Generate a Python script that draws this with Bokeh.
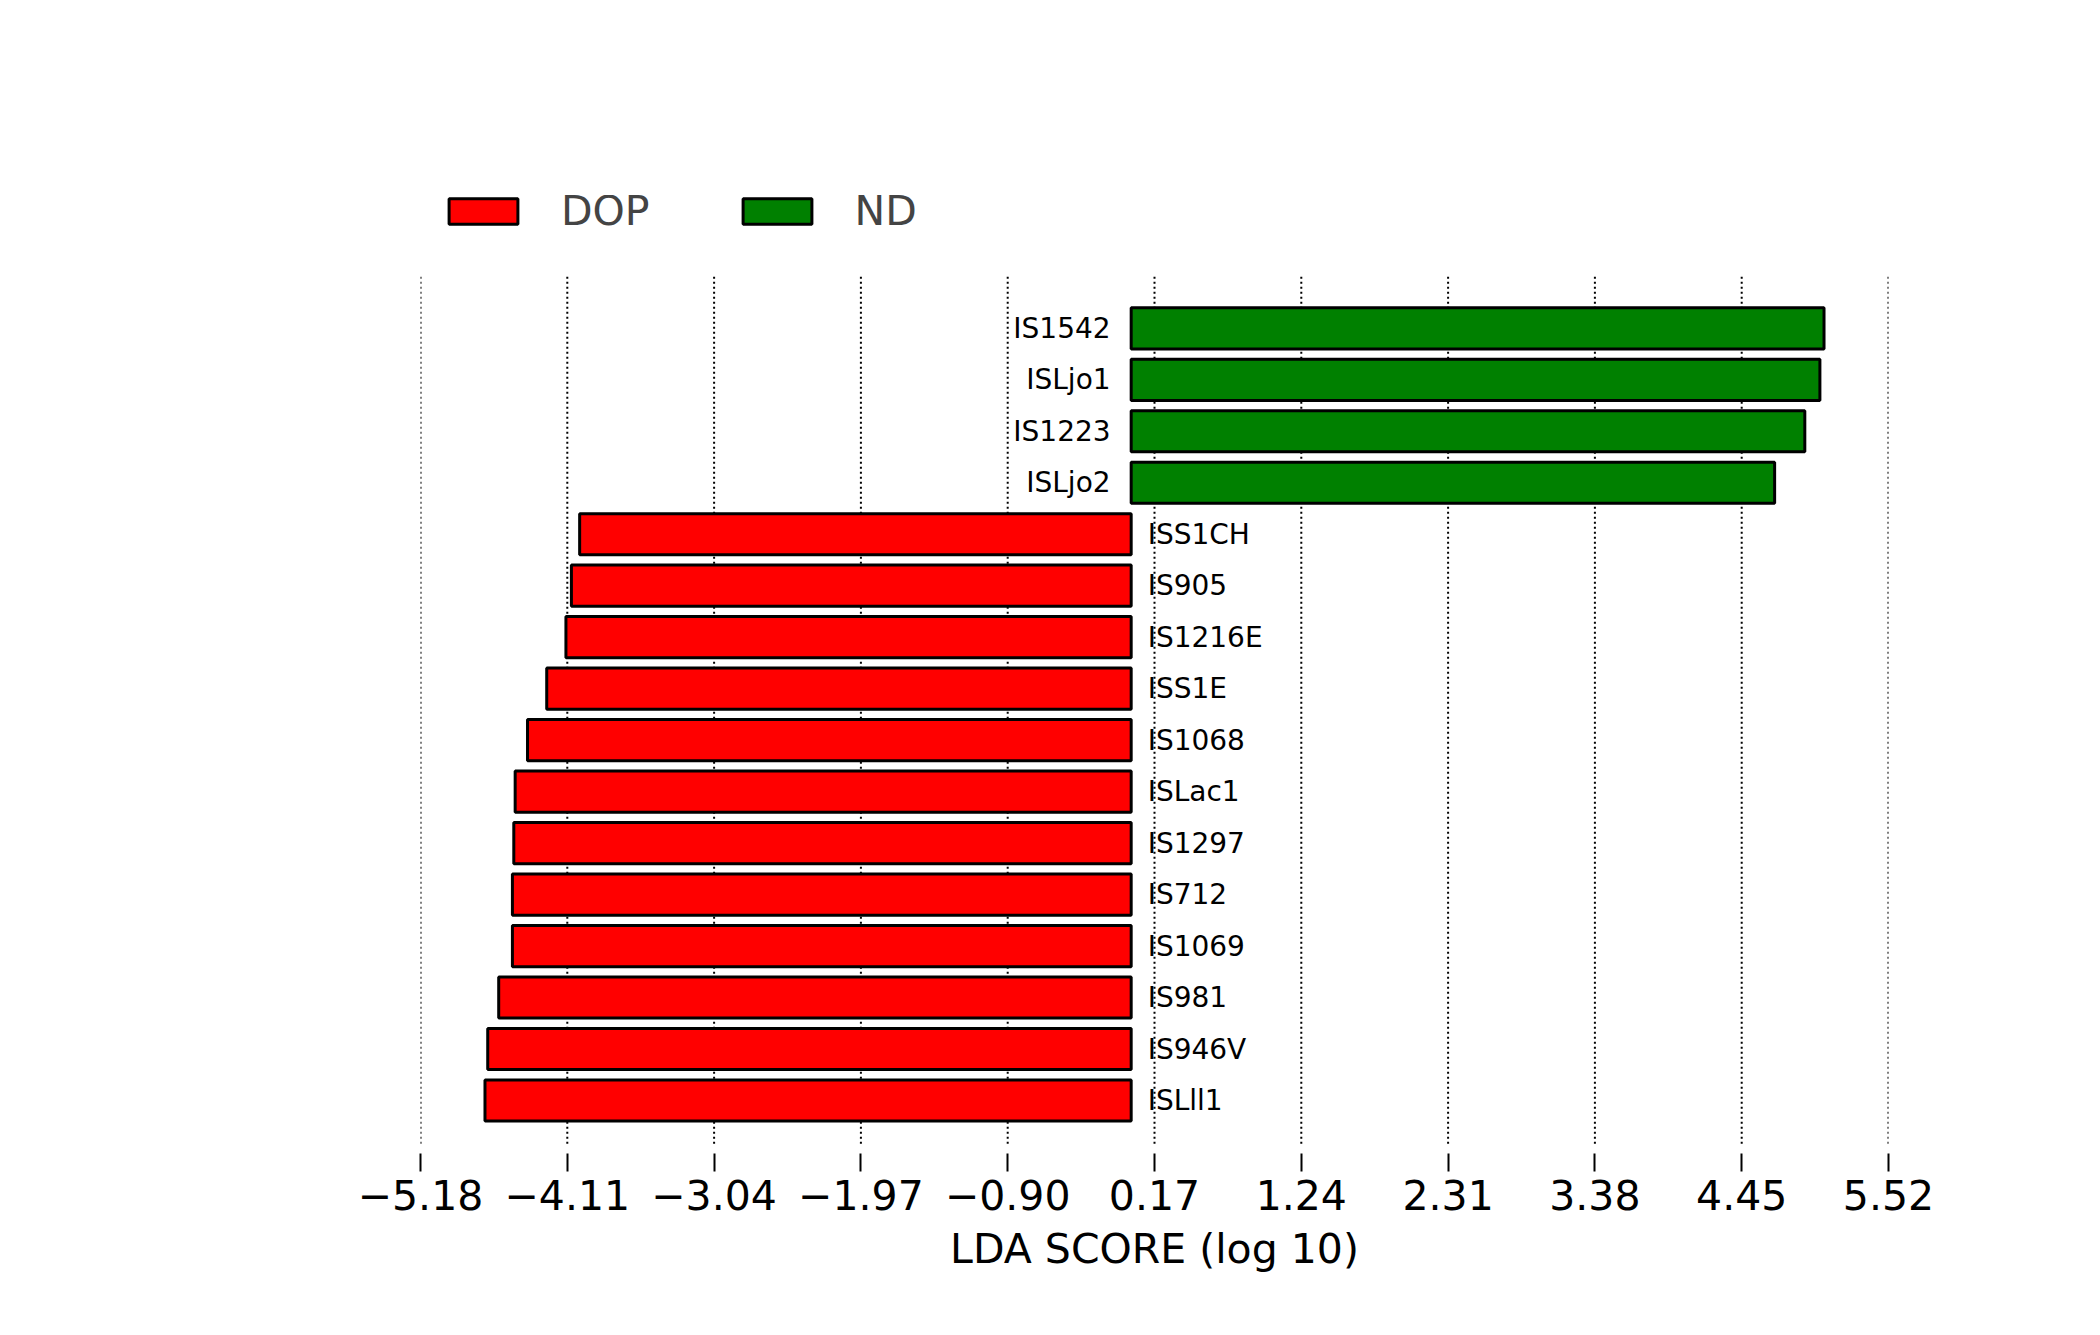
from bokeh.plotting import figure
from bokeh.models import FixedTicker, Legend, LegendItem
from bokeh.core.properties import value
from bokeh.embed import file_html
from bokeh.resources import INLINE

nd_names = ["IS1542", "ISLjo1", "IS1223", "ISLjo2"]
nd_scores = [5.05, 5.02, 4.91, 4.69]
dop_names = ["ISS1CH", "IS905", "IS1216E", "ISS1E", "IS1068", "ISLac1", "IS1297",
             "IS712", "IS1069", "IS981", "IS946V", "ISLll1"]
dop_scores = [-4.02, -4.08, -4.12, -4.26, -4.40, -4.49, -4.50, -4.51, -4.51, -4.61, -4.69, -4.71]
ticks = [-5.18, -4.11, -3.04, -1.97, -0.90, 0.17, 1.24, 2.31, 3.38, 4.45, 5.52]

names = nd_names + dop_names
n = len(names)
ypos = [n - 1 - i for i in range(n)]
nd_y = ypos[:len(nd_names)]
dop_y = ypos[len(nd_names):]

FONT = "DejaVu Sans"
W, H = 2084, 1319
left, fw = 420, 1468
top, fh = 195, 958
p = figure(width=W, height=H, output_backend="svg", toolbar_location=None,
           x_range=(-5.18, 5.52), y_range=(-1.03, 17.58),
           min_border_left=left, min_border_right=W - left - fw,
           min_border_top=top, min_border_bottom=H - top - fh)
p.outline_line_color = None
p.xgrid.visible = False
p.ygrid.visible = False
p.yaxis.visible = False

# grid lines
p.segment(x0=ticks, x1=ticks, y0=[-0.84] * len(ticks), y1=[16.0] * len(ticks),
          line_color="black", line_width=2, line_dash="2 3")

r_dop = p.hbar(y=dop_y, left=0, right=dop_scores, height=0.8, fill_color="#ff0000",
               line_color="black", line_width=3)
r_nd = p.hbar(y=nd_y, left=0, right=nd_scores, height=0.8, fill_color="#008000",
              line_color="black", line_width=3)

p.text(x=[-0.15] * len(nd_names), y=nd_y, text=nd_names, text_align="right",
       text_baseline="middle", text_font=value(FONT), text_font_size="28px")
p.text(x=[0.12] * len(dop_names), y=dop_y, text=dop_names, text_align="left",
       text_baseline="middle", text_font=value(FONT), text_font_size="28px")

ax = p.xaxis[0]
ax.ticker = FixedTicker(ticks=ticks)
ax.major_label_overrides = {t: (f"{t:.2f}".replace("-", "\u2212")) for t in ticks}
ax.axis_line_color = None
ax.minor_tick_line_color = None
ax.major_tick_in = 0
ax.major_tick_out = 18
ax.major_tick_line_width = 2
ax.major_label_text_font = FONT
ax.major_label_text_font_size = "41px"
ax.major_label_text_color = "black"
ax.major_label_standoff = 8
ax.axis_label = "LDA SCORE (log 10)"
ax.axis_label_text_font = FONT
ax.axis_label_text_font_style = "normal"
ax.axis_label_text_font_size = "41px"
ax.axis_label_text_color = "black"
ax.axis_label_standoff = 12

legend = Legend(items=[LegendItem(label="DOP", renderers=[r_dop]),
                       LegendItem(label="ND", renderers=[r_nd])],
                orientation="horizontal", location=(20, 918),
                glyph_width=86, glyph_height=32, label_standoff=35, spacing=84,
                padding=0, margin=0, border_line_color=None, background_fill_alpha=0,
                label_text_font=FONT, label_text_font_size="41px", label_height=32)
p.add_layout(legend, "center")

open("out.html", "w").write(file_html(p, INLINE))
